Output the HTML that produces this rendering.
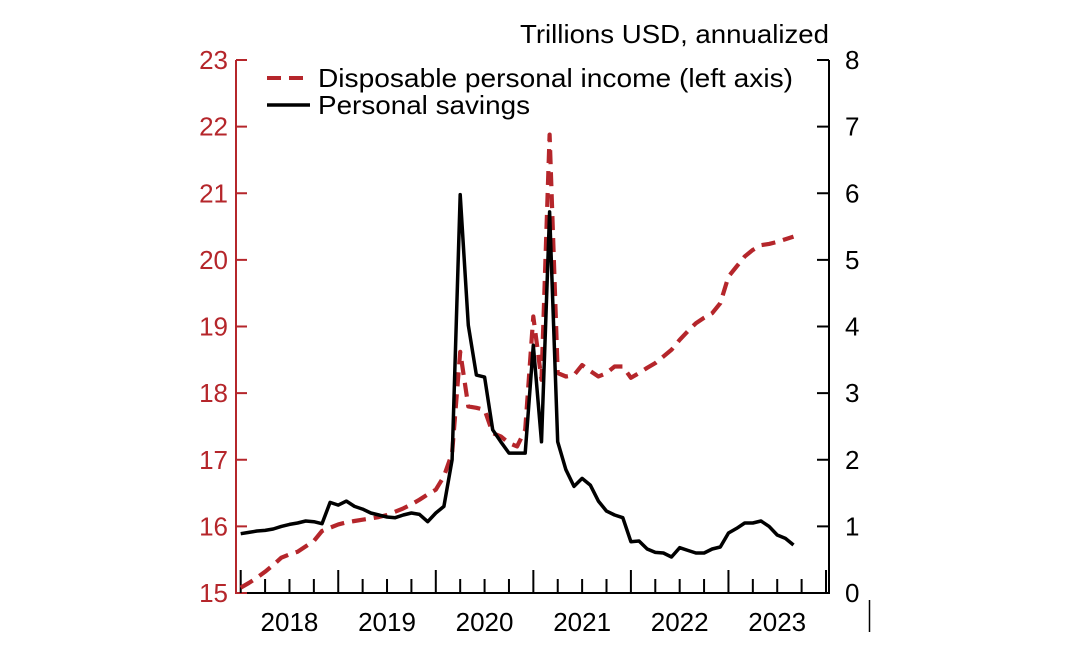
<!DOCTYPE html>
<html><head><meta charset="utf-8"><style>
html,body{margin:0;padding:0;background:#fff;}
svg{display:block;font-family:"Liberation Sans",Arial,sans-serif;}
</style></head><body>
<svg id="chart" width="1067" height="656" viewBox="0 0 1067 656">
<g id="axes"></g>
<g id="series"></g>
<text x="829" y="43" font-size="26" text-anchor="end" textLength="309" lengthAdjust="spacingAndGlyphs" fill="#000">Trillions USD, annualized</text>
<g>
<line x1="267" y1="78" x2="310" y2="78" stroke="#b5262b" stroke-width="4" stroke-dasharray="14 8"/>
<text x="318" y="87" font-size="26" textLength="475" lengthAdjust="spacingAndGlyphs" fill="#000">Disposable personal income (left axis)</text>
<line x1="267" y1="105" x2="310" y2="105" stroke="#000" stroke-width="3.5"/>
<text x="318" y="114" font-size="26" textLength="212" lengthAdjust="spacingAndGlyphs" fill="#000">Personal savings</text>
</g>
<line x1="869.5" y1="600" x2="869.5" y2="632" stroke="#000" stroke-width="1.5"/>
</svg>
<script>
const years = ["2018","2019","2020","2021","2022","2023"];
const leftTicks = [15,16,17,18,19,20,21,22,23];
const rightTicks = [0,1,2,3,4,5,6,7,8];
const income = [15.08,15.15,15.23,15.32,15.42,15.53,15.58,15.62,15.7,15.78,15.93,15.98,16.03,16.06,16.08,16.1,16.12,16.14,16.17,16.22,16.27,16.33,16.4,16.48,
16.55,16.75,17.1,18.62,17.8,17.78,17.75,17.4,17.35,17.25,17.2,17.45,19.15,18.2,21.88,
18.3,18.25,18.27,18.42,18.33,18.25,18.3,18.4,18.4,18.23,18.3,18.38,18.45,18.55,18.65,18.8,18.93,19.05,19.13,19.2,19.35,19.75,19.9,20.05,20.15,20.22,20.24,20.27,20.31,20.35];
const savings = [0.89,0.91,0.93,0.94,0.96,1.0,1.03,1.05,1.08,1.07,1.04,1.36,1.32,1.38,1.3,1.26,1.2,1.17,1.14,1.13,1.17,1.2,1.18,1.07,
1.2,1.3,2.0,5.98,4.02,3.27,3.24,2.45,2.27,2.1,2.1,2.1,3.72,2.27,5.72,
2.27,1.85,1.6,1.72,1.62,1.38,1.23,1.17,1.13,0.77,0.78,0.66,0.61,0.6,0.54,0.68,0.64,0.6,0.6,0.66,0.69,0.9,0.97,1.05,1.05,1.08,1.0,0.87,0.82,0.72];

const NS="http://www.w3.org/2000/svg";
const X0=240.7, YEARW=97.55, MONTHW=YEARW/12;
const LEFTX=236, RIGHTX=829, TOP=60, BOT=593;
const xM = i => X0 + MONTHW*i;
const yL = v => BOT - (v-15)*(BOT-TOP)/8;
const yR = v => BOT - v*(BOT-TOP)/8;
const RED="#b5262b";
function mk(tag, attrs, parent){const e=document.createElementNS(NS,tag);for(const k in attrs)e.setAttribute(k,attrs[k]);parent.appendChild(e);return e;}
const ax=document.getElementById('axes');
let e;
e=mk('line',{x1:LEFTX,y1:TOP,x2:LEFTX,y2:BOT+1,stroke:RED,'stroke-width':2},ax);


e=mk('line',{x1:RIGHTX,y1:TOP,x2:RIGHTX,y2:BOT+1,stroke:'#000','stroke-width':2},ax);


e=mk('line',{x1:LEFTX,y1:BOT,x2:RIGHTX+1,y2:BOT,stroke:'#000','stroke-width':2},ax);


leftTicks.forEach(v=>{
  const y=yL(v);
  e=mk('line',{x1:LEFTX,y1:y,x2:LEFTX+11,y2:y,stroke:RED,'stroke-width':2},ax);
  
  
  e=mk('text',{x:228,y:y+9,'font-size':26,'text-anchor':'end',fill:RED},ax);
  e.textContent=v;
  
  
});
rightTicks.forEach(v=>{
  const y=yR(v);
  e=mk('line',{x1:RIGHTX-12,y1:y,x2:RIGHTX,y2:y,stroke:'#000','stroke-width':2},ax);
  
  
  e=mk('text',{x:845,y:y+9,'font-size':26,fill:'#000'},ax);
  e.textContent=v;
  
  
});
for(let q=0;q<=years.length*4;q++){
  const x=X0+q*YEARW/4;
  const major=q%4===0;
  e=mk('line',{x1:x,y1:BOT,x2:x,y2:BOT-(major?23:14),stroke:'#000','stroke-width':2},ax);
  
  
}
years.forEach((yr,k)=>{
  e=mk('text',{x:X0+YEARW*(k+0.5),y:631,'font-size':26,'text-anchor':'middle',fill:'#000'},ax);
  e.textContent=yr;
  
  
});
const sg=document.getElementById('series');
e=mk('polyline',{points:income.map((v,i)=>xM(i).toFixed(1)+','+yL(v).toFixed(1)).join(' '),fill:'none',stroke:RED,'stroke-width':4.2,'stroke-dasharray':'14 8','stroke-linejoin':'round'},sg);


e=mk('polyline',{points:savings.map((v,i)=>xM(i).toFixed(1)+','+yR(v).toFixed(1)).join(' '),fill:'none',stroke:'#000','stroke-width':3.5,'stroke-linejoin':'round'},sg);


</script>
</body></html>
